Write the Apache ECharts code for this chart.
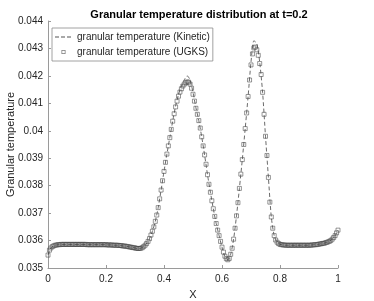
<!DOCTYPE html>
<html>
<head>
<meta charset="utf-8">
<script src="https://cdn.jsdelivr.net/npm/echarts@6/dist/echarts.min.js"></script>
<style>html,body{margin:0;padding:0;background:#fff}#c{width:374px;height:301px}</style>
</head>
<body>
<div id="c"></div>
<script>
// Tick labels
var xTickLabels = ['0', '0.2', '0.4', '0.6', '0.8', '1'];
var yTickLabels = ['0.035', '0.036', '0.037', '0.038', '0.039', '0.04', '0.041', '0.042', '0.043', '0.044'];

// Kinetic solution, sampled every 0.01 in X (0 .. 1)
var kineticValues = [
  0.03547, 0.03573, 0.03581, 0.03584, 0.03585, 0.03586, 0.03586, 0.03586, 0.03586, 0.03586,
  0.03586, 0.03586, 0.03586, 0.03586, 0.03585, 0.03585, 0.03585, 0.03585, 0.03585, 0.03585,
  0.03585, 0.03584, 0.03584, 0.03583, 0.03583, 0.03582, 0.03580, 0.03579, 0.03577, 0.03575,
  0.03573, 0.03571, 0.03572, 0.03578, 0.03589, 0.03607, 0.03634, 0.03670, 0.03720, 0.03784,
  0.03852, 0.03915, 0.03975, 0.04035, 0.04090, 0.04132, 0.04163, 0.04186, 0.04200, 0.04185,
  0.04140, 0.04084, 0.04037, 0.03978, 0.03912, 0.03840, 0.03776, 0.03716, 0.03662, 0.03618,
  0.03576, 0.03543, 0.03530, 0.03550, 0.03605, 0.03690, 0.03790, 0.03895, 0.04008, 0.04125,
  0.04250, 0.04328, 0.04318, 0.04250, 0.04140, 0.03980, 0.03830, 0.03686, 0.03618, 0.03594,
  0.03586, 0.03584, 0.03583, 0.03583, 0.03583, 0.03583, 0.03583, 0.03583, 0.03583, 0.03583,
  0.03583, 0.03584, 0.03585, 0.03586, 0.03588, 0.03590, 0.03593, 0.03597, 0.03605, 0.03618,
  0.03638
];

// UGKS solution, sampled every 0.005 in X (0 .. 1)
var ugksValues = [
  0.03547, 0.03565, 0.03573, 0.03578, 0.03581, 0.03583, 0.03584, 0.03585, 0.03585, 0.03586,
  0.03586, 0.03586, 0.03586, 0.03586, 0.03586, 0.03586, 0.03586, 0.03586, 0.03586, 0.03586,
  0.03586, 0.03586, 0.03586, 0.03586, 0.03586, 0.03586, 0.03586, 0.03585, 0.03585, 0.03585,
  0.03585, 0.03585, 0.03585, 0.03585, 0.03585, 0.03585, 0.03585, 0.03585, 0.03585, 0.03585,
  0.03585, 0.03584, 0.03584, 0.03584, 0.03584, 0.03583, 0.03583, 0.03583, 0.03583, 0.03582,
  0.03582, 0.03581, 0.03580, 0.03580, 0.03579, 0.03578, 0.03577, 0.03576, 0.03575, 0.03574,
  0.03573, 0.03572, 0.03571, 0.03571, 0.03572, 0.03574, 0.03578, 0.03583, 0.03589, 0.03597,
  0.03607, 0.03620, 0.03634, 0.03650, 0.03670, 0.03693, 0.03720, 0.03752, 0.03784, 0.03818,
  0.03852, 0.03885, 0.03915, 0.03945, 0.03975, 0.04005, 0.04035, 0.04062, 0.04087, 0.04108,
  0.04126, 0.04141, 0.04153, 0.04163, 0.04170, 0.04175, 0.04178, 0.04177, 0.04170, 0.04155,
  0.04133, 0.04108, 0.04082, 0.04060, 0.04037, 0.04010, 0.03978, 0.03945, 0.03912, 0.03878,
  0.03840, 0.03805, 0.03776, 0.03745, 0.03716, 0.03688, 0.03662, 0.03638, 0.03618, 0.03597,
  0.03576, 0.03558, 0.03543, 0.03534, 0.03530, 0.03535, 0.03550, 0.03572, 0.03605, 0.03645,
  0.03690, 0.03738, 0.03790, 0.03842, 0.03895, 0.03950, 0.04008, 0.04065, 0.04125, 0.04185,
  0.04240, 0.04280, 0.04302, 0.04305, 0.04295, 0.04275, 0.04245, 0.04205, 0.04140, 0.04060,
  0.03980, 0.03910, 0.03830, 0.03740, 0.03686, 0.03645, 0.03618, 0.03602, 0.03594, 0.03589,
  0.03586, 0.03585, 0.03584, 0.03584, 0.03583, 0.03583, 0.03583, 0.03583, 0.03583, 0.03583,
  0.03583, 0.03583, 0.03583, 0.03583, 0.03583, 0.03583, 0.03583, 0.03583, 0.03583, 0.03583,
  0.03583, 0.03583, 0.03584, 0.03584, 0.03585, 0.03585, 0.03586, 0.03587, 0.03588, 0.03589,
  0.03590, 0.03591, 0.03593, 0.03595, 0.03597, 0.03600, 0.03605, 0.03611, 0.03618, 0.03628,
  0.03638
];

function pairs(vals) {
  var n = vals.length, out = [];
  for (var i = 0; i < n; i++) out.push([i / (n - 1), vals[i]]);
  return out;
}

var FONT = 'Liberation Sans, Arial, Helvetica, sans-serif';
// legend glyphs (icon shapes only)
var dashIcon = 'path://M0,0M0,2.6h4v0.8h-4zM6,2.6h4v0.8h-4zM12,2.6h4v0.8h-4zM17,6';
var squareIcon = 'path://M0,0M6.5,1h4v4h-4zM7.2,1.7v2.6h2.6v-2.6zM17,6';

var chart = echarts.init(document.getElementById('c'), null, {renderer: 'canvas'});
chart.setOption({
  animation: false,
  backgroundColor: '#fff',
  title: {
    text: 'Granular temperature distribution at t=0.2',
    left: 194, top: 4, textAlign: 'center',
    textStyle: {fontFamily: FONT, fontSize: 11, fontWeight: 'bold', color: '#000'}
  },
  grid: {left: 48, right: 36, top: 21, bottom: 33, containLabel: false, outerBoundsMode: 'none'},
  legend: {
    orient: 'vertical', left: 52, top: 28,
    backgroundColor: '#fff', borderColor: '#8a8a8a', borderWidth: 0.8, borderRadius: 0,
    padding: [4, 3, 4, 3], itemGap: 5, itemWidth: 17, itemHeight: 6,
    textStyle: {fontFamily: FONT, fontSize: 10, color: '#262626'},
    data: [
      {name: 'granular temperature (Kinetic)', icon: dashIcon,
       itemStyle: {color: '#555', borderWidth: 0}, lineStyle: {width: 0, opacity: 0}},
      {name: 'granular temperature (UGKS)', icon: squareIcon,
       itemStyle: {color: '#555', borderWidth: 0}}
    ]
  },
  xAxis: {
    type: 'value', min: 0, max: 1, interval: 0.2,
    name: 'X', nameLocation: 'middle', nameGap: 21, nameMoveOverlap: false,
    nameTextStyle: {fontFamily: FONT, fontSize: 11, color: '#262626'},
    axisLine: {show: true, lineStyle: {color: '#9a9a9a', width: 1}},
    axisTick: {show: true, inside: true, length: 3, lineStyle: {color: '#9a9a9a'}},
    axisLabel: {fontFamily: FONT, fontSize: 10, color: '#262626', margin: 6,
      formatter: function (v, i) { return xTickLabels[i]; }},
    splitLine: {show: false}
  },
  yAxis: {
    type: 'value', min: 0.035, max: 0.044, interval: 0.001,
    name: 'Granular temperature', nameLocation: 'middle', nameGap: 32, nameMoveOverlap: false,
    nameTextStyle: {fontFamily: FONT, fontSize: 11, color: '#262626'},
    axisLine: {show: true, lineStyle: {color: '#9a9a9a', width: 1}},
    axisTick: {show: true, inside: true, length: 3, lineStyle: {color: '#9a9a9a'}},
    axisLabel: {fontFamily: FONT, fontSize: 10, color: '#262626', margin: 5,
      formatter: function (v, i) { return yTickLabels[i]; }},
    splitLine: {show: false}
  },
  series: [
    {
      name: 'granular temperature (Kinetic)', type: 'line',
      data: pairs(kineticValues), smooth: 0.25, symbol: 'none', showSymbol: false,
      lineStyle: {color: '#444', width: 0.8, type: [4, 2.5]},
      itemStyle: {color: '#444'}, z: 3
    },
    {
      name: 'granular temperature (UGKS)', type: 'scatter',
      data: pairs(ugksValues), symbol: 'rect', symbolSize: 4,
      itemStyle: {color: 'rgba(0,0,0,0)', borderColor: '#444', borderWidth: 0.7}, z: 2
    }
  ]
});
</script>
</body>
</html>
